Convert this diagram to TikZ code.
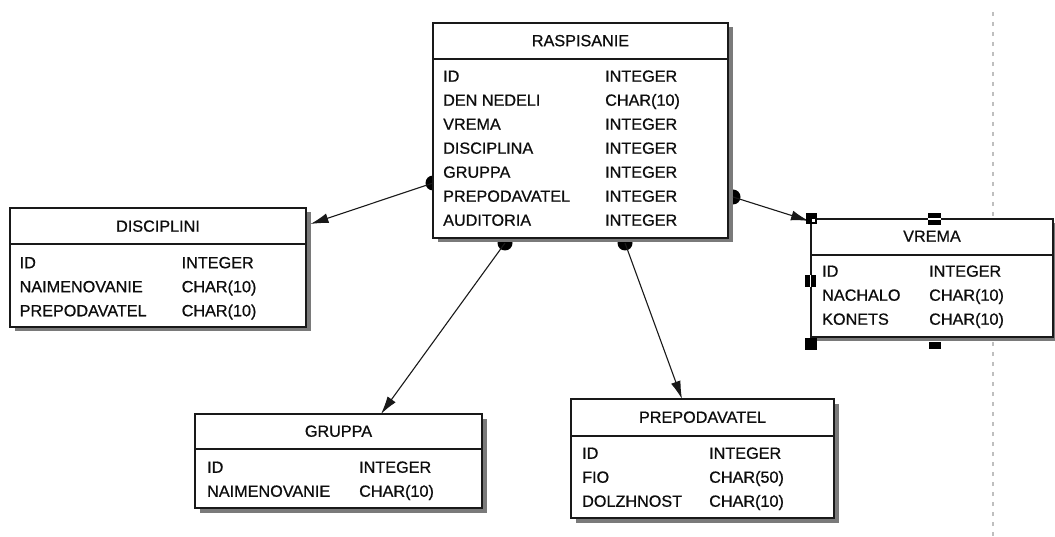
\documentclass[tikz,border=0pt]{standalone}
\usepackage{fontspec}
\setmainfont{Liberation Sans}[FakeBold=0.7]
\usetikzlibrary{shadows,arrows.meta,calc}
\begin{document}
\begin{tikzpicture}[x=1pt,y=-1pt,
  tbl/.style={draw=black!90, line width=1.6pt, fill=white, inner sep=0pt, outer sep=0pt,
    anchor=north west,
    drop shadow={shadow xshift=4.5pt, shadow yshift=-4.5pt, fill=black!52, opacity=1}},
  hdr/.style={draw=black!90, line width=1.5pt},
  ttl/.style={inner sep=0pt, font=\fontsize{16.2}{18}\selectfont, text height=11.5pt,
    text depth=0pt, anchor=center, text=black!95},
  fld/.style={ttl, anchor=west},
  ball/.style={circle, fill=black, inner sep=0pt, minimum size=15pt},
  conn/.style={draw=black!90, line width=1.1pt, -{Latex[length=18pt,width=10pt]}},
  handle/.style={fill=black},
  gap/.style={fill=white},
  pagebreak/.style={draw=black!25, line width=1.6pt, dash pattern=on 4pt off 6pt},
]
\useasboundingbox (0,0) rectangle (1055,537);
\clip (0,0) rectangle (1055,537);

% page break line
\draw[pagebreak] (993,12) -- (993,537);

% relationship balls (half hidden by the tables)
\node[ball] (b1) at (433,183) {};
\node[ball] (b2) at (733,197) {};
\node[ball] (b3) at (505,243) {};
\node[ball] (b4) at (625,243) {};

% RASPISANIE
\node[tbl, minimum width=295pt, minimum height=215pt] (rasp) at (433,23) {};
\draw[hdr] ([yshift=-36pt]rasp.north west) -- ([yshift=-36pt]rasp.north east);
\node[ttl] (raspT) at (580.5,40.5) {RASPISANIE};
\foreach \n/\t [count=\i] in {ID/INTEGER, DEN NEDELI/CHAR(10), VREMA/INTEGER,
  DISCIPLINA/INTEGER, GRUPPA/INTEGER, PREPODAVATEL/INTEGER, AUDITORIA/INTEGER}{
  \node[fld] (rasp-n\i) at (443,{52+24*\i}) {\n};
  \node[fld] (rasp-t\i) at (605,{52+24*\i}) {\t};
}

% DISCIPLINI
\node[tbl, minimum width=296pt, minimum height=119pt] (disc) at (10,208) {};
\draw[hdr] ([yshift=-36pt]disc.north west) -- ([yshift=-36pt]disc.north east);
\node[ttl] (discT) at (158,226) {DISCIPLINI};
\foreach \n/\t [count=\i] in {ID/INTEGER, NAIMENOVANIE/CHAR(10), PREPODAVATEL/CHAR(10)}{
  \node[fld] (disc-n\i) at (19.5,{238.5+24*\i}) {\n};
  \node[fld] (disc-t\i) at (181.5,{238.5+24*\i}) {\t};
}

% VREMA
\node[tbl, minimum width=242pt, minimum height=118pt] (vrema) at (811,219) {};
\draw[hdr] ([yshift=-36pt]vrema.north west) -- ([yshift=-36pt]vrema.north east);
\node[ttl] (vremaT) at (932,236) {VREMA};
\foreach \n/\t [count=\i] in {ID/INTEGER, NACHALO/CHAR(10), KONETS/CHAR(10)}{
  \node[fld] (vrema-n\i) at (822,{247+24*\i}) {\n};
  \node[fld] (vrema-t\i) at (929,{247+24*\i}) {\t};
}

% GRUPPA
\node[tbl, minimum width=287pt, minimum height=94pt] (grp) at (195,414) {};
\draw[hdr] ([yshift=-35pt]grp.north west) -- ([yshift=-35pt]grp.north east);
\node[ttl] (grpT) at (338.5,431) {GRUPPA};
\foreach \n/\t [count=\i] in {ID/INTEGER, NAIMENOVANIE/CHAR(10)}{
  \node[fld] (grp-n\i) at (207,{443+24*\i}) {\n};
  \node[fld] (grp-t\i) at (359,{443+24*\i}) {\t};
}

% PREPODAVATEL
\node[tbl, minimum width=263pt, minimum height=119pt] (prep) at (571,399) {};
\draw[hdr] ([yshift=-37pt]prep.north west) -- ([yshift=-37pt]prep.north east);
\node[ttl] (prepT) at (702.5,417) {PREPODAVATEL};
\foreach \n/\t [count=\i] in {ID/INTEGER, FIO/CHAR(50), DOLZHNOST/CHAR(10)}{
  \node[fld] (prep-n\i) at (582,{429+24*\i}) {\n};
  \node[fld] (prep-t\i) at (709,{429+24*\i}) {\t};
}

% connectors
\draw[conn] (b1.center) -- ([xshift=4.5pt,yshift=-16pt]disc.north east);
\draw[conn] (b2.center) -- ([xshift=-2pt,yshift=-2pt]vrema.north west);
\draw[conn] (b3.center) -- ([xshift=42.5pt]grp.north);
\draw[conn] (b4.center) -- ([xshift=-20.5pt]prep.north);

% selection handles on VREMA
\fill[handle] (806,213) rectangle (817,224);
\filldraw[gap, draw=black, line width=0.6pt] (811.5,218.5) rectangle (815.5,222.5);
\fill[handle] (928,213) rectangle (941,225);
\fill[gap] (928,218.5) rectangle (941,219.7);
\fill[handle] (805,275) rectangle (816,287);
\fill[gap] (810,275) rectangle (811.2,287);
\fill[handle] (805,338) rectangle (817,350);
\fill[handle] (929,342) rectangle (941,349);
\end{tikzpicture}
\end{document}
